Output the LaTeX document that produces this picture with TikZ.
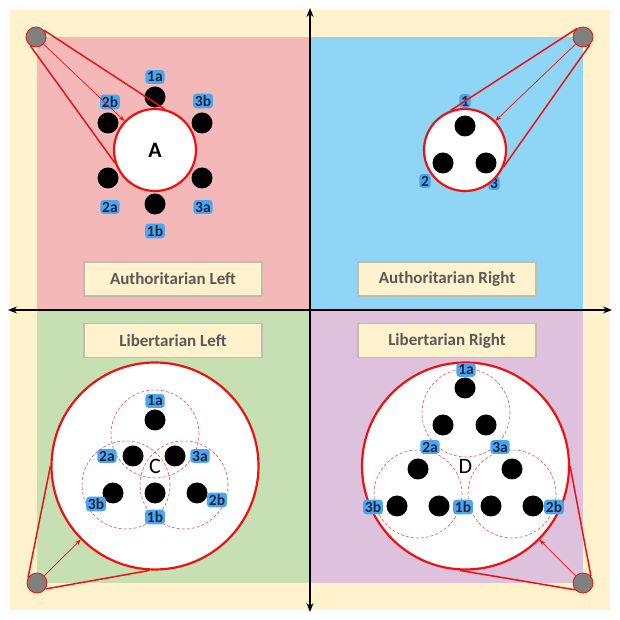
\documentclass[tikz,border=0pt]{standalone}
\usepackage{fontspec}
\setmainfont{Carlito}
\usetikzlibrary{positioning, arrows.meta}

\definecolor{cream}{HTML}{FFF2CC}
\definecolor{pinkq}{HTML}{F4B8B8}
\definecolor{blueq}{HTML}{8ED5F6}
\definecolor{greenq}{HTML}{C6E0B4}
\definecolor{purpleq}{HTML}{DDC1DD}
\definecolor{glow}{HTML}{4AA6F0}
\definecolor{tagtext}{HTML}{1C2740}
\definecolor{boxline}{HTML}{C0BCB0}
\definecolor{boxtext}{HTML}{595959}
\definecolor{ringred}{HTML}{EE1111}

\tikzset{
    dot/.style={circle, fill=black, inner sep=0pt, minimum size=21pt},
    ring/.style={circle, draw=ringred, line width=2.2pt, fill=white, inner sep=0pt},
    zone/.style={draw=ringred!75, dash pattern=on 3pt off 2pt, line width=0.6pt},
    tag/.style={fill=glow, rounded corners=3pt, inner sep=1.8pt, text=tagtext,
        font=\bfseries\fontsize{15.5}{15.5}\selectfont},
    eye/.style={circle, fill=gray, draw=ringred, line width=0.8pt, inner sep=0pt, minimum size=20pt},
    quadlabel/.style={fill=cream, draw=boxline, line width=1.5pt, text=boxtext,
        minimum width=178pt, minimum height=34pt, font=\bfseries\fontsize{17}{17}\selectfont},
    ray/.style={draw=ringred, line width=1.5pt},
    pointer/.style={draw=ringred, line width=0.7pt, -{Stealth[length=6pt, width=4.5pt]}},
}

\begin{document}
\begin{tikzpicture}[x=1pt, y=1pt, >={Stealth[length=9pt, width=7pt]}]
        \useasboundingbox (0,0) rectangle (620,620);
        
        % quadrants
        \fill[cream] (10,10) rectangle (610,610);
        \fill[pinkq] (37,310) rectangle (310,583);
        \fill[blueq] (310,310) rectangle (583,583);
        \fill[greenq] (37,37) rectangle (310,310);
        \fill[purpleq] (310,37) rectangle (583,310);
        
        \draw[line width=1.2pt, <->] (310,8) -- (310,612);
        \draw[line width=1.2pt, <->] (8,310) -- (612,310);
        
        \node[quadlabel] (tal) at (173,341) {Authoritarian Left};
        \node[quadlabel] (tar) at (447,341) {Authoritarian Right};
        \node[quadlabel] (tll) at (173,279.5) {Libertarian Left};
        \node[quadlabel] (tlr) at (447,279.5) {Libertarian Right};
        
        % A
        \node[ring, minimum size=82pt, font=\bfseries\fontsize{22}{22}\selectfont] (A) at (155,470) {A};
        \node[dot] (a1a) at (155,523) {};  \node[tag] (l1a) at (155,543) {1a};
        \node[dot] (a2b) at (108,497) {};  \node[tag] (l2b) at (110,518) {2b};
        \node[dot] (a3b) at (202,497) {};  \node[tag] (l3b) at (203,519) {3b};
        \node[dot] (a2a) at (108,442) {};  \node[tag] (l2a) at (110,413) {2a};
        \node[dot] (a3a) at (202,442) {};  \node[tag] (l3a) at (203,413) {3a};
        \node[dot] (a1b) at (155,416) {};  \node[tag] (l1b) at (155,389) {1b};
        
        \node[eye] (gA) at (36,583) {};
        \draw[ray] (gA.40) -- (A.77);
        \draw[ray] (gA.236) -- (A.198);
        \draw[pointer] (gA) -- (A);
        
        % B
        \node[tag] (l1) at (465,519) {1};
        \node[tag] (l2) at (425,439) {2};
        \node[tag] (l3) at (494,437) {3};
        \node[ring, minimum size=82pt] (B) at (465,470) {};
        \node[dot] (b1) at (465,494) {};
        \node[dot] (b2) at (443,457) {};
        \node[dot] (b3) at (486,457) {};
        
        \node[eye] (gB) at (583,583) {};
        \draw[ray] (gB.125) -- (B.110);
        \draw[ray] (gB.311) -- (B.336);
        \draw[pointer] (gB) -- (B);
        
        % C
        \node[ring, minimum size=207pt, font=\fontsize{22}{22}\selectfont] (C) at (155,154) {C};
        \draw[zone] (155,186) circle (44);
        \draw[zone] (126,135) circle (44);
        \draw[zone] (184,135) circle (44);
        \node[dot] (c1a) at (155,200) {};  \node[tag] (m1a) at (155,219) {1a};
        \node[dot] (c2a) at (133,164) {};  \node[tag] (m2a) at (107,164) {2a};
        \node[dot] (c3a) at (175,164) {};  \node[tag] (m3a) at (200,164) {3a};
        \node[dot] (c3b) at (113,127) {};  \node[tag] (m3b) at (96,116) {3b};
        \node[dot] (c1b) at (155,127) {};  \node[tag] (m1b) at (155,103) {1b};
        \node[dot] (c2b) at (197,127) {};  \node[tag] (m2b) at (217,120) {2b};
        
        \node[eye] (gC) at (37,37) {};
        \draw[ray] (gC.150) -- (C.180);
        \draw[ray] (gC.325) -- (C.267);
        \draw[pointer] (gC) -- (C);
        
        % D
        \node[ring, minimum size=207pt, font=\fontsize{22}{22}\selectfont] (D) at (465.5,154) {D};
        \draw[zone] (466,207) circle (44);
        \draw[zone] (418,126) circle (44);
        \draw[zone] (512,126) circle (44);
        \node[dot] (d1) at (465,232) {};
        \node[dot] (d2) at (443,195) {};
        \node[dot] (d3) at (486,195) {};
        \node[dot] (d4) at (418,151) {};
        \node[dot] (d5) at (397,114) {};
        \node[dot] (d6) at (439,114) {};
        \node[dot] (d7) at (512,151) {};
        \node[dot] (d8) at (491,114) {};
        \node[dot] (d9) at (533,114) {};
        \node[tag] (n1a) at (466,250) {1a};
        \node[tag] (n2a) at (430,173) {2a};
        \node[tag] (n3a) at (500,173) {3a};
        \node[tag] (n3b) at (373,113) {3b};
        \node[tag] (n1b) at (463,113) {1b};
        \node[tag] (n2b) at (554,113) {2b};
        
        \node[eye] (gD) at (583,37) {};
        \draw[ray] (gD.40) -- (D.0);
        \draw[ray] (gD.221) -- (D.267);
        \draw[pointer] (gD) -- (D);
        
    \end{tikzpicture}
\end{document}
